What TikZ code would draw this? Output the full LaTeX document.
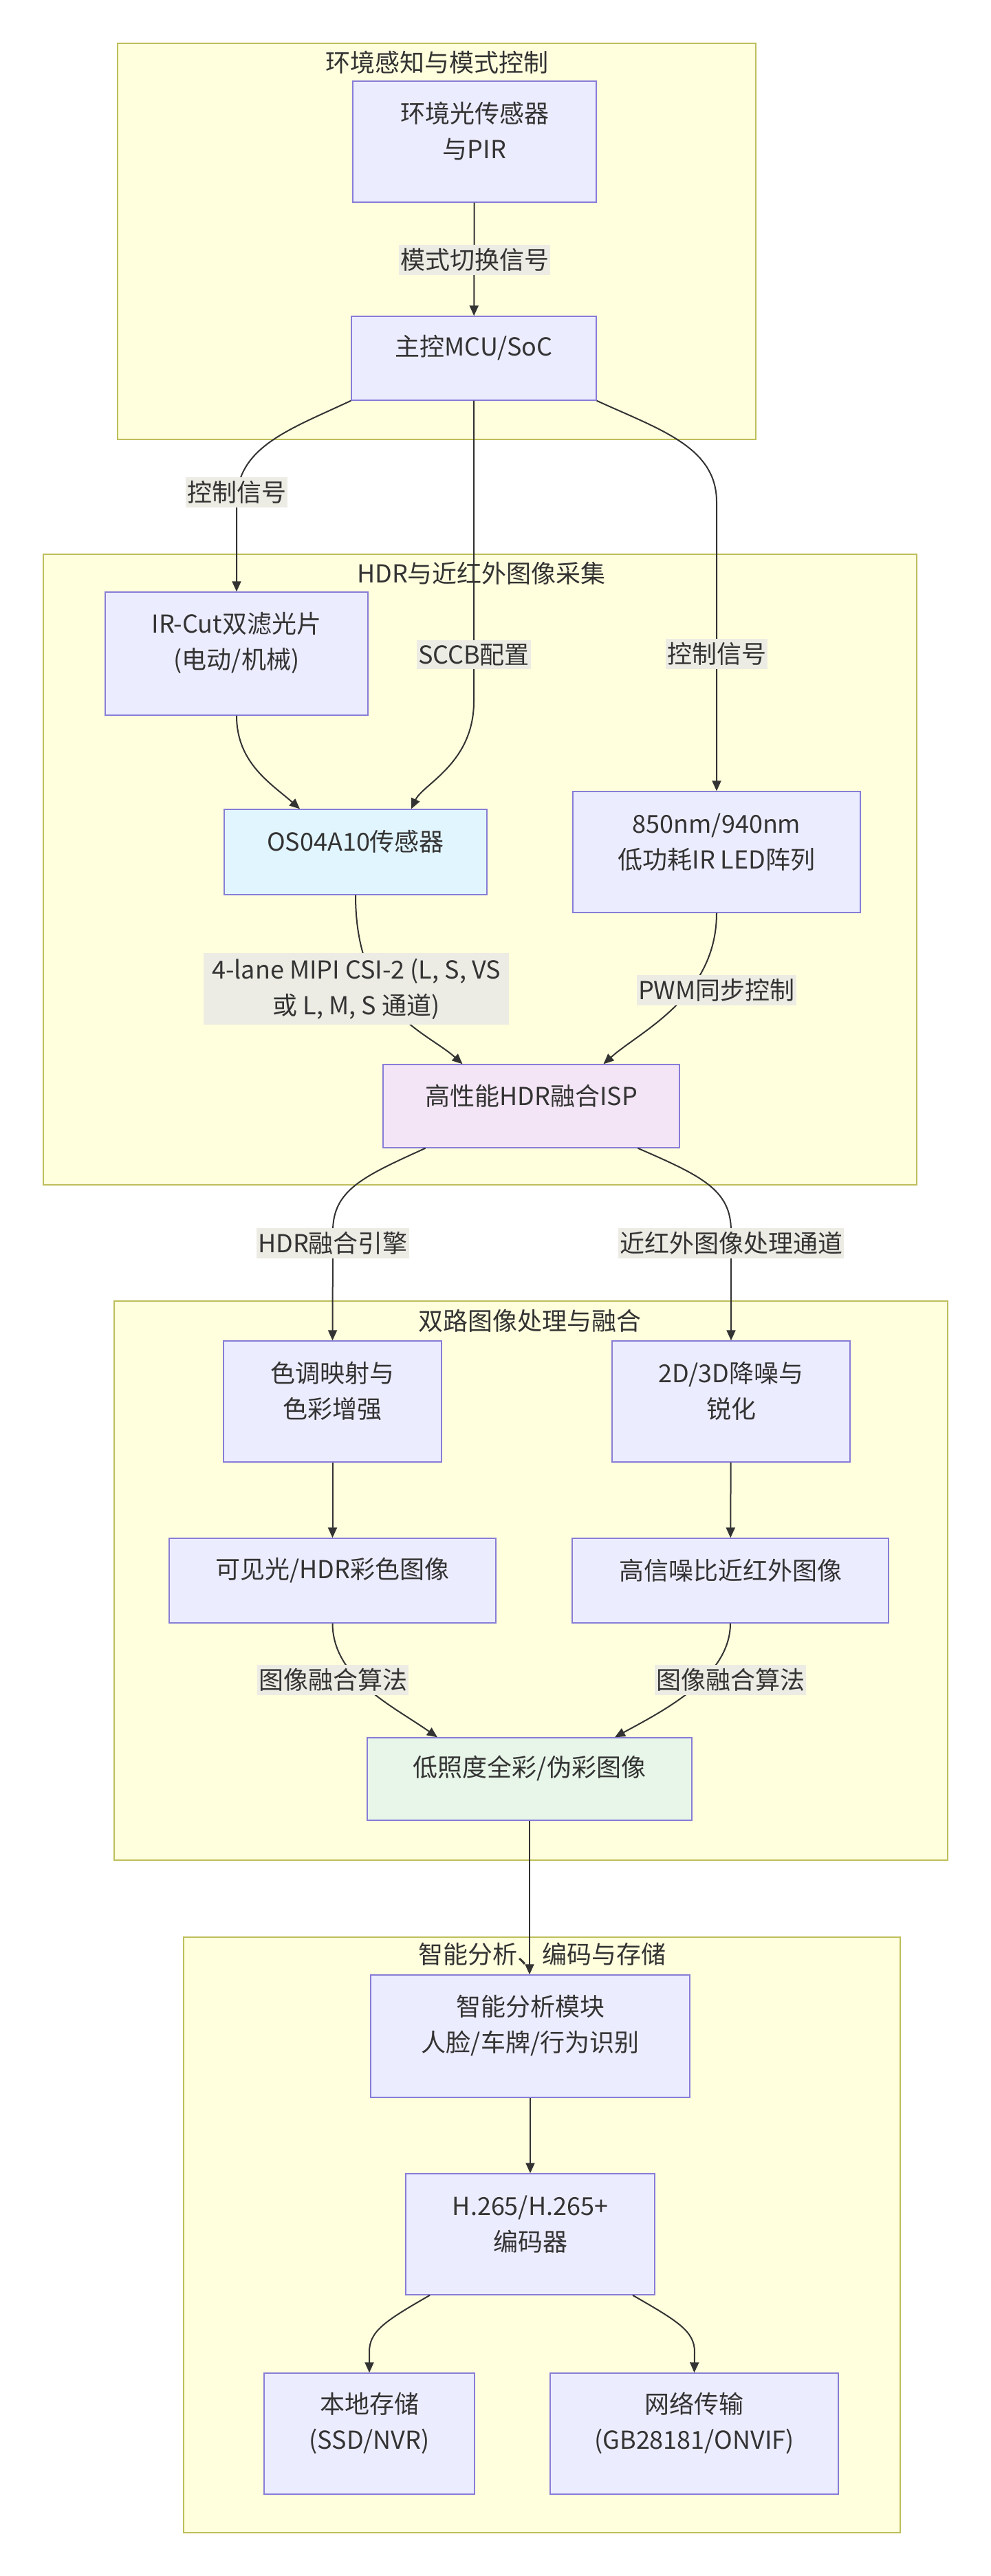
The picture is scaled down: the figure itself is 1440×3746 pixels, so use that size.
\documentclass[tikz,border=0pt]{standalone}
\usepackage{fontspec}
\setmainfont{Noto Sans CJK SC}
\usetikzlibrary{arrows.meta,fit}
\pgfdeclarelayer{bg}
\pgfsetlayers{bg,main}
\definecolor{clusfill}{RGB}{255,255,222}
\definecolor{clusdraw}{RGB}{190,190,90}
\definecolor{nodefill}{RGB}{236,236,255}
\definecolor{nodedraw}{RGB}{135,125,215}
\definecolor{osfill}{RGB}{225,245,254}
\definecolor{ispfill}{RGB}{243,229,245}
\definecolor{fusefill}{RGB}{232,245,233}
\definecolor{labelbg}{RGB}{236,236,228}
\definecolor{textc}{RGB}{51,51,51}
\definecolor{linec}{RGB}{51,51,51}
\tikzset{
  clus/.style={draw=clusdraw, fill=clusfill, line width=0.7pt, inner sep=0pt},
  box/.style={draw=nodedraw, fill=nodefill, line width=0.7pt, inner sep=0pt, align=center, text=textc, font=\fontsize{18}{26}\selectfont},
  elab/.style={fill=labelbg, inner xsep=1pt, inner ysep=2.5pt, align=center, text=textc, font=\fontsize{18}{26}\selectfont},
  ttl/.style={text=textc, inner sep=1pt, font=\fontsize{18}{26}\selectfont},
  conn/.style={draw=linec, line width=1pt},
  arr/.style={conn, -{Triangle[length=7.5pt,width=6.5pt]}},
}
\begin{document}
\begin{tikzpicture}[x=0.5pt,y=-0.5pt]
\useasboundingbox (0,0) rectangle (1440,3746);

% clusters
\begin{pgfonlayer}{bg}
\fill[white] (0,0) rectangle (1440,3746);
\node[clus, fit={(171,63)(1099,639)}] (cA) {};
\node[clus, fit={(63,806)(1333,1723)}] (cB) {};
\node[clus, fit={(166,1892)(1378,2705)}] (cC) {};
\node[clus, fit={(267,2817)(1309,3683)}] (cD) {};
\end{pgfonlayer}

\node[ttl] (tA) at (635,91) {环境感知与模式控制};
\node[ttl] (tB) at (700,834) {HDR与近红外图像采集};
\node[ttl] (tC) at (770,1921) {双路图像处理与融合};
\node[ttl] (tD) at (788,2842) {智能分析、编码与存储};

% nodes
\node[box, fit={(513,118)(867,294)}] (n1) {环境光传感器\\与PIR};
\node[box, fit={(511,460)(867,582)}] (mcu) {主控MCU/SoC};
\node[box, fit={(153,861)(535,1040)}] (ircut) {IR-Cut双滤光片\\(电动/机械)};
\node[box, fill=osfill, fit={(326,1177)(708,1301)}] (os) {OS04A10传感器};
\node[box, fit={(833,1151)(1251,1327)}] (led) {850nm/940nm\\低功耗IR LED阵列};
\node[box, fill=ispfill, fit={(557,1548)(988,1669)}] (isp) {高性能HDR融合ISP};
\node[box, fit={(325,1950)(642,2126)}] (tone) {色调映射与\\色彩增强};
\node[box, fit={(890,1950)(1236,2126)}] (nr) {2D/3D降噪与\\锐化};
\node[box, fit={(246,2237)(721,2360)}] (vis) {可见光/HDR彩色图像};
\node[box, fit={(832,2237)(1292,2360)}] (nir) {高信噪比近红外图像};
\node[box, fill=fusefill, fit={(534,2527)(1006,2647)}] (fused) {低照度全彩/伪彩图像};
\node[box, fit={(539,2872)(1003,3050)}] (ai) {智能分析模块\\人脸/车牌/行为识别};
\node[box, fit={(590,3161)(952,3337)}] (enc) {H.265/H.265+\\编码器};
\node[box, fit={(384,3451)(690,3627)}] (store) {本地存储\\(SSD/NVR)};
\node[box, fit={(800,3451)(1219,3627)}] (net) {网络传输\\(GB28181/ONVIF)};

% connectors
\draw[arr] (n1) -- (mcu);
\draw[arr] (mcu.south west) .. controls (420,625) and (344,650) .. (344,730) -- (ircut.north);
\draw[arr] (mcu.south) -- (689,1020) .. controls (689,1110) and (615,1140) .. ([xshift=40.5pt]os.north);
\draw[arr] (mcu.south east) .. controls (960,625) and (1042,650) .. (1042,730) -- (led.north);
\draw[arr] (ircut.south) .. controls (344,1110) and (395,1140) .. ([xshift=-40.5pt]os.north);
\draw[arr] (os.south) .. controls (517,1470) and (620,1500) .. ([xshift=-50pt]isp.north);
\draw[arr] (led.south) .. controls (1042,1450) and (930,1500) .. ([xshift=52.5pt]isp.north);
\draw[arr] ([xshift=-77pt]isp.south) .. controls (530,1710) and (484,1730) .. (484,1790) -- (tone.north);
\draw[arr] ([xshift=77.5pt]isp.south) .. controls (1020,1710) and (1063,1730) .. (1063,1790) -- (nr.north);
\draw[arr] (tone) -- (vis);
\draw[arr] (nr) -- (nir);
\draw[arr] (vis.south) .. controls (484,2440) and (570,2480) .. ([xshift=-67pt]fused.north);
\draw[arr] (nir.south) .. controls (1062,2440) and (960,2490) .. ([xshift=62pt]fused.north);
\draw[arr] (fused.south) -- (fused.south |- ai.north);
\draw[arr] (ai) -- (enc);
\draw[arr] ([xshift=-73pt]enc.south) .. controls (560,3375) and (537,3390) .. (537,3420) -- (store.north);
\draw[arr] ([xshift=74.5pt]enc.south) .. controls (985,3375) and (1010,3390) .. (1010,3420) -- (net.north);

% edge labels
\node[elab] (l1) at (690,378) {模式切换信号};
\node[elab] (l2) at (344,716) {控制信号};
\node[elab] (l3) at (689,952) {SCCB配置};
\node[elab] (l4) at (1042,951) {控制信号};
\node[elab, inner xsep=6pt, inner ysep=4pt] (l5) at (518,1438) {4-lane MIPI CSI-2 (L, S, VS\\或 L, M, S 通道)};
\node[elab] (l6) at (1042,1440) {PWM同步控制};
\node[elab] (l7) at (484,1808) {HDR融合引擎};
\node[elab] (l8) at (1063,1808) {近红外图像处理通道};
\node[elab] (l9) at (484,2443) {图像融合算法};
\node[elab] (l10) at (1062,2443) {图像融合算法};
\end{tikzpicture}
\end{document}
